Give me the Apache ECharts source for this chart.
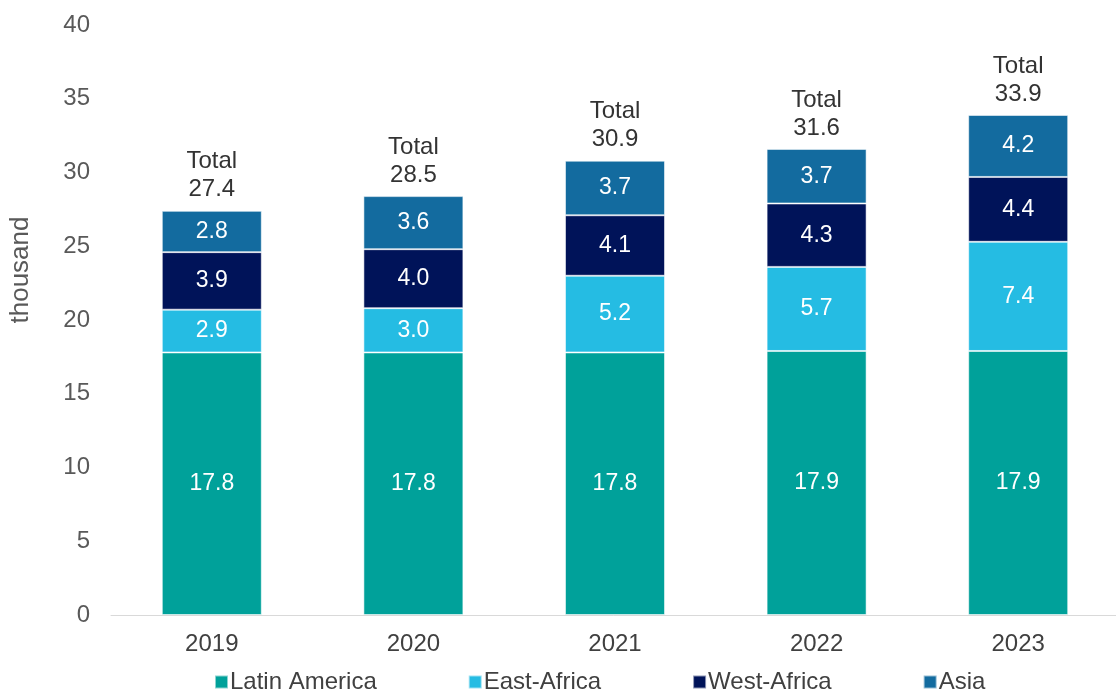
<!DOCTYPE html>
<html>
<head>
<meta charset="utf-8">
<title>Stacked bars</title>
<script src="https://cdn.jsdelivr.net/npm/echarts@6/dist/echarts.min.js"></script>
<style>
  html, body { margin: 0; padding: 0; background: #fff; }
  #container { width: 1116px; height: 691px; }
</style>
</head>
<body>
<div id="container"></div>
<script>
var years = ['2019', '2020', '2021', '2022', '2023'];
var latinAmerica = [17.8, 17.8, 17.8, 17.9, 17.9];
var eastAfrica = [2.9, 3.0, 5.2, 5.7, 7.4];
var westAfrica = [3.9, 4.0, 4.1, 4.3, 4.4];
var asia = [2.8, 3.6, 3.7, 3.7, 4.2];
var totals = [27.4, 28.5, 30.9, 31.6, 33.9];

var font = '"Liberation Sans", Arial, sans-serif';

function seg(name, data, color) {
  return {
    name: name,
    type: 'bar',
    stack: 'all',
    barWidth: 100,
    data: data,
    itemStyle: { color: color, borderColor: 'rgba(255,255,255,0.55)', borderWidth: 1 },
    label: {
      show: true,
      position: 'inside',
      color: '#fff',
      fontSize: 23,
      fontFamily: font,
      formatter: function (p) { return p.value.toFixed(1); }
    }
  };
}

var myChart = echarts.init(document.getElementById('container'));
var series = [
  seg('Latin America', latinAmerica, '#00A19A'),
  seg('East-Africa', eastAfrica, '#25BCE3'),
  seg('West-Africa', westAfrica, '#001359'),
  seg('Asia', asia, '#136B9F')
];
// total label on top of the stack
series.push({
  name: 'Total',
  type: 'bar',
  stack: 'all',
  barWidth: 100,
  data: years.map(function () { return 0; }),
  itemStyle: { color: 'transparent' },
  label: {
    show: true,
    position: 'top',
    distance: 7,
    color: '#333',
    fontSize: 24,
    lineHeight: 28,
    fontFamily: font,
    formatter: function (p) { return 'Total\n' + totals[p.dataIndex].toFixed(1); }
  }
});

var option = {
  animation: false,
  grid: { left: 111, right: -3, top: 25, bottom: 76, outerBoundsMode: 'none', containLabel: false },
  legend: {
    bottom: -8,
    left: 209,
    itemWidth: 13,
    itemHeight: 13,
    itemGap: 91,
    icon: 'rect',
    data: ['Latin America', 'East-Africa', 'West-Africa', 'Asia'],
    textStyle: { color: '#404040', fontSize: 24, fontFamily: font, padding: [0, 0, 0, -3] }
  },
  xAxis: {
    type: 'category',
    data: years,
    axisLine: { lineStyle: { color: '#d9d9d9', width: 1 } },
    axisTick: { show: false },
    axisLabel: { color: '#404040', fontSize: 24, fontFamily: font, margin: 17 }
  },
  yAxis: {
    type: 'value',
    min: 0,
    max: 40,
    interval: 5,
    name: 'thousand',
    nameLocation: 'middle',
    nameGap: 77,
    nameTextStyle: { color: '#595959', fontSize: 26, fontFamily: font, padding: [0, 0, 0, 100] },
    splitLine: { show: false },
    axisLine: { show: false },
    axisTick: { show: false },
    axisLabel: { color: '#595959', fontSize: 24, fontFamily: font, margin: 21 }
  },
  series: series
};
myChart.setOption(option);
</script>
</body>
</html>
